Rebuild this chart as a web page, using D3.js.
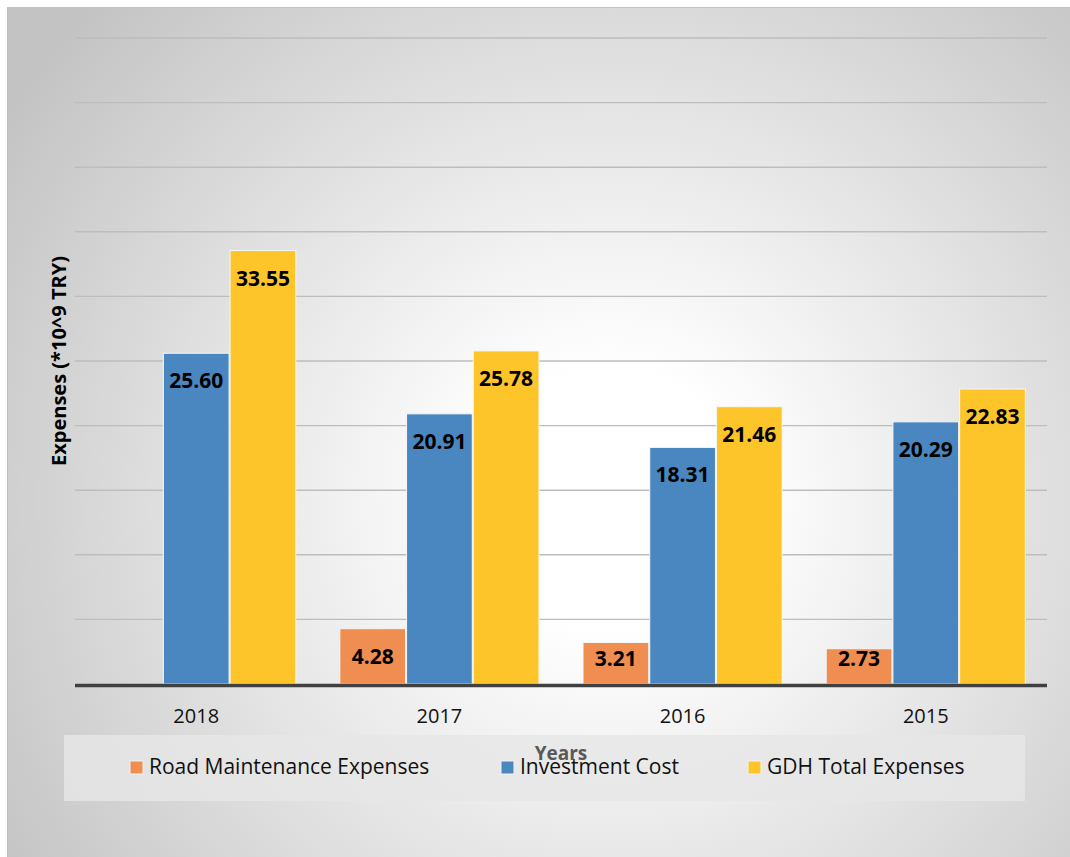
<!DOCTYPE html>
<html>
<head>
<meta charset="utf-8">
<script src="https://cdn.jsdelivr.net/npm/d3@7"></script>
<style>
  html, body { margin: 0; padding: 0; background: #ffffff; }
  svg { display: block; }
  text { font-family: "Open Sans", "Noto Sans", sans-serif; }
</style>
</head>
<body>
<svg id="chart" width="1070" height="857"></svg>
<script>
// Years shown on the category axis (left to right)
const years = ["2018", "2017", "2016", "2015"];
// Series, in units of 10^9 TRY (2018 has no road maintenance figure)
const seriesNames = ["Road Maintenance Expenses", "Investment Cost", "GDH Total Expenses"];
const roadMaintenance = [null, 4.28, 3.21, 2.73];
const investmentCost = [25.60, 20.91, 18.31, 20.29];
const gdhTotal = [33.55, 25.78, 21.46, 22.83];
const seriesColors = ["#ef8e50", "#4a87c1", "#fdc52a"];
const yTicks = [0, 5, 10, 15, 20, 25, 30, 35, 40, 45, 50];

const seriesValues = [roadMaintenance, investmentCost, gdhTotal];

const svg = d3.select("#chart");
const W = 1070, H = 857;
const plot = { left: 75, right: 1047, top: 38, bottom: 684 };

// Panel background with a soft radial highlight
const defs = svg.append("defs");
const grad = defs.append("radialGradient")
  .attr("id", "panelGlow")
  .attr("gradientUnits", "userSpaceOnUse")
  .attr("cx", 610).attr("cy", 500).attr("r", 720);
grad.append("stop").attr("offset", "0").attr("stop-color", "#ffffff");
grad.append("stop").attr("offset", "0.18").attr("stop-color", "#ffffff");
grad.append("stop").attr("offset", "1").attr("stop-color", "#c3c3c3");

svg.append("rect")
  .attr("x", 7).attr("y", 7).attr("width", W - 7).attr("height", H - 7)
  .attr("fill", "url(#panelGlow)");
svg.append("line")
  .attr("x1", 7.5).attr("x2", 7.5).attr("y1", 7).attr("y2", H)
  .attr("stroke", "#bcbcbc").attr("stroke-width", 1);
svg.append("line")
  .attr("x1", 7).attr("x2", W).attr("y1", 7.5).attr("y2", 7.5)
  .attr("stroke", "#c4c4c4").attr("stroke-width", 1);

// Scales
const x0 = d3.scaleBand()
  .domain(years)
  .range([plot.left, plot.right])
  .paddingInner(0.177)
  .paddingOuter(0.087);
const x1 = d3.scaleBand()
  .domain(d3.range(seriesNames.length))
  .range([0, x0.bandwidth()])
  .padding(0);
const y = d3.scaleLinear()
  .domain([0, 50])
  .range([plot.bottom, plot.top]);

// Horizontal gridlines at every y tick above zero
svg.append("g").selectAll("line")
  .data(yTicks.filter(v => v > 0))
  .join("line")
  .attr("x1", plot.left).attr("x2", plot.right)
  .attr("y1", d => y(d)).attr("y2", d => y(d))
  .attr("stroke", "#bdbdbd").attr("stroke-width", 1.4);

// Bars
const rows = years.map((yr, i) => ({
  year: yr,
  values: seriesValues.map((arr, s) => ({ s, v: arr[i] }))
}));

const groups = svg.append("g").selectAll("g")
  .data(rows)
  .join("g")
  .attr("transform", d => `translate(${x0(d.year)},0)`);

groups.selectAll("rect")
  .data(d => d.values.filter(p => p.v != null))
  .join("rect")
  .attr("x", p => x1(p.s) + 0.5)
  .attr("width", x1.bandwidth() - 1)
  .attr("y", p => y(p.v))
  .attr("height", p => y(0) - y(p.v))
  .attr("fill", p => seriesColors[p.s])
  .attr("stroke", "#f6f6f6")
  .attr("stroke-width", 1);

// Value labels sit inside the bar end, but never below the axis
const labelFloor = plot.bottom - 18;
groups.selectAll("text.value")
  .data(d => d.values.filter(p => p.v != null))
  .join("text")
  .attr("class", "value")
  .attr("x", p => x1(p.s) + x1.bandwidth() / 2)
  .attr("y", p => Math.min(y(p.v) + 35, labelFloor))
  .attr("text-anchor", "middle")
  .attr("font-size", 21)
  .attr("font-weight", 700)
  .attr("fill", "#000000")
  .text(p => p.v.toFixed(2));

// Category axis
const xAxis = svg.append("g")
  .attr("transform", `translate(0,${plot.bottom})`)
  .call(d3.axisBottom(x0).tickSize(0).tickPadding(0));
xAxis.select(".domain").remove();
xAxis.selectAll(".tick text")
  .attr("y", 39)
  .attr("dy", 0)
  .attr("font-size", 20)
  .attr("font-family", "Open Sans, sans-serif")
  .attr("fill", "#111111");
svg.append("line")
  .attr("x1", plot.left).attr("x2", plot.right)
  .attr("y1", plot.bottom + 1.5).attr("y2", plot.bottom + 1.5)
  .attr("stroke", "#404040").attr("stroke-width", 3.5);

// Y axis title
svg.append("text")
  .attr("transform", `translate(66,${(plot.top + plot.bottom) / 2}) rotate(-90)`)
  .attr("text-anchor", "middle")
  .attr("font-size", 20)
  .attr("font-weight", 700)
  .attr("fill", "#000000")
  .text("Expenses (*10^9 TRY)");

// Legend band
svg.append("rect")
  .attr("x", 64).attr("y", 735).attr("width", 961).attr("height", 66)
  .attr("fill", "#e6e6e6").attr("opacity", 0.82);

// X axis title sits over the legend band
svg.append("text")
  .attr("x", 561)
  .attr("y", 760)
  .attr("text-anchor", "middle")
  .attr("font-size", 19)
  .attr("font-weight", 700)
  .attr("fill", "#595959")
  .text("Years");

const legendX = [130, 501, 748];
const items = svg.append("g").selectAll("g")
  .data(seriesNames)
  .join("g")
  .attr("transform", (d, i) => `translate(${legendX[i]},761)`);
items.append("rect")
  .attr("width", 13).attr("height", 13)
  .attr("fill", (d, i) => seriesColors[i])
  .attr("stroke", "#f2f2f2").attr("stroke-width", 1);
items.append("text")
  .attr("x", 19).attr("y", 13)
  .attr("font-size", 21)
  .attr("fill", "#111111")
  .text(d => d);
</script>
</body>
</html>
